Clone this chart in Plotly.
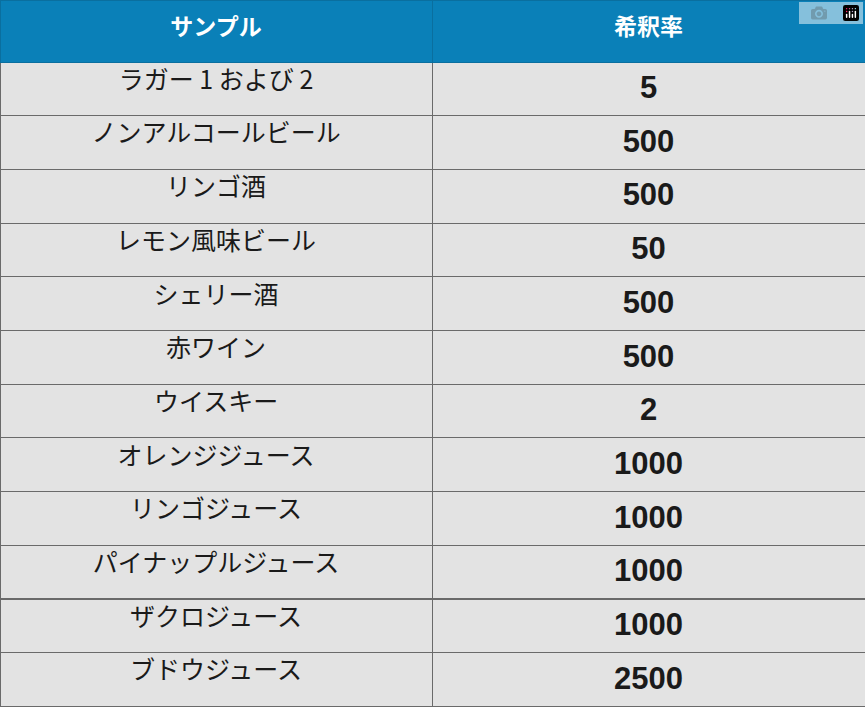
import plotly.graph_objects as go

headers = ["<b>サンプル</b>", "<b>希釈率</b>"]
samples = ["ラガー 1 および 2", "ノンアルコールビール", "リンゴ酒", "レモン風味ビール",
           "シェリー酒", "赤ワイン", "ウイスキー", "オレンジジュース", "リンゴジュース",
           "パイナップルジュース", "ザクロジュース", "ブドウジュース"]
dilution = [5, 500, 500, 50, 500, 500, 2, 1000, 1000, 1000, 1000, 2500]

fig = go.Figure(go.Table(
    columnwidth=[432, 433],
    header=dict(values=headers, fill_color="#0a80b8", height=62,
                line=dict(color="#0a6f9f", width=1), align="center",
                font=dict(family="Noto Sans CJK JP", size=23, color="white")),
    cells=dict(values=[samples, ["<b>%d</b>" % d for d in dilution]],
               fill_color="#e3e3e3", height=53.7,
               line=dict(color="#6a6a6a", width=1), align="center",
               font=dict(family=["Noto Sans CJK JP", "Liberation Sans"],
                         size=[25, 31], color="#1a1a1a")),
))
fig.update_layout(width=865, height=707, margin=dict(l=0, r=0, t=0, b=0),
                  paper_bgcolor="white")
# ブラウザ既定の body 余白を消す
fig.write_html("out.html", post_script="document.body.style.margin='0';")
